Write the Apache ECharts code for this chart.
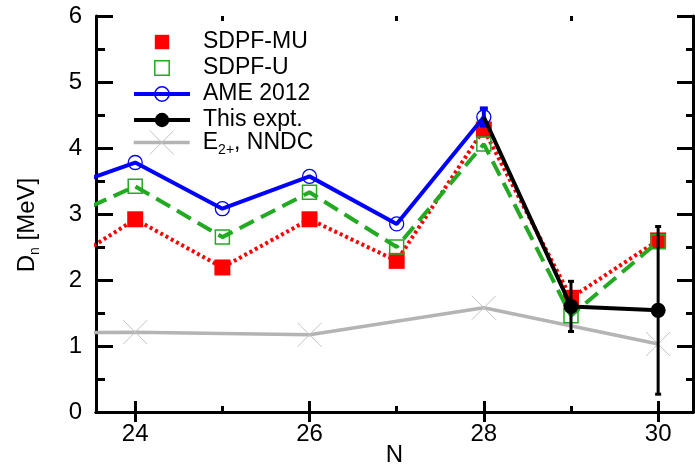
<!DOCTYPE html>
<html>
<head>
<meta charset="utf-8">
<script src="https://cdn.jsdelivr.net/npm/echarts@6/dist/echarts.min.js"></script>
<style>
  html, body { margin: 0; padding: 0; background: #fff; }
  #chart { width: 695px; height: 466px; }
</style>
</head>
<body>
<div id="chart"></div>
<script>
// Neutron shell-gap indicator D_n versus neutron number N
const nAll = [23, 24, 25, 26, 27, 28, 29, 30];
const sdpfMu = [2.08, 2.92, 2.19, 2.92, 2.29, 4.28, 1.73, 2.60];
const sdpfU = [2.82, 3.42, 2.65, 3.33, 2.50, 4.06, 1.46, 2.58];

const nAme = [23, 24, 25, 26, 27, 28];
const ame2012 = [3.31, 3.78, 3.08, 3.57, 2.85, 4.47];
const ame2012Err = [0, 0, 0, 0, 0, 0.13];

const nExpt = [28, 29, 30];
const expt = [4.47, 1.60, 1.54];
const exptErr = [0, 0.38, 1.27];

const nE2 = [23, 24, 26, 28, 30];
const e2Nndc = [1.20, 1.21, 1.17, 1.58, 1.03];

const xMajorTicks = [24, 26, 28, 30];
const xMinorTicks = [25, 27, 29];

const FONT = '"Liberation Sans", Arial, Helvetica, sans-serif';
const RED = '#ff0000', GREEN = '#22aa22', BLUE = '#0000ff', BLACK = '#000000', GRAY = '#b4b4b4';

const pairs = (xs, ys) => xs.map((x, i) => [x, ys[i]]);
const triples = (xs, ys, es) => xs.map((x, i) => [x, ys[i], es[i]]);

// vertical error bar with small caps
function errorBar(color, width, capHalf) {
  return function (params, api) {
    const x = api.value(0), y = api.value(1), e = api.value(2);
    if (!(e > 0)) return null;
    const top = api.coord([x, y + e]);
    const bot = api.coord([x, y - e]);
    const st = { stroke: color, lineWidth: width };
    return {
      type: 'group',
      children: [
        { type: 'line', shape: { x1: top[0], y1: top[1], x2: bot[0], y2: bot[1] }, style: st },
        { type: 'line', shape: { x1: top[0] - capHalf, y1: top[1], x2: top[0] + capHalf, y2: top[1] }, style: st },
        { type: 'line', shape: { x1: bot[0] - capHalf, y1: bot[1], x2: bot[0] + capHalf, y2: bot[1] }, style: st }
      ]
    };
  };
}

const frameLine = { show: true, lineStyle: { color: BLACK, width: 3 } };
const gridRect = { left: 96, right: 2, top: 16, bottom: 54, containLabel: false, outerBoundsMode: 'none' };
const xRange = { min: 23.55, max: 30.4 };

const chart = echarts.init(document.getElementById('chart'), null, { renderer: 'canvas' });

chart.setOption({
  animation: false,
  backgroundColor: '#ffffff',
  textStyle: { fontFamily: FONT },
  grid: [
    Object.assign({}, gridRect),
    Object.assign({}, gridRect)
  ],
  xAxis: [
    {
      gridIndex: 0, type: 'value', position: 'bottom', ...xRange,
      name: 'N', nameLocation: 'middle', nameGap: 31, nameMoveOverlap: false,
      nameTextStyle: { fontSize: 24, color: BLACK, fontFamily: FONT },
      axisLine: frameLine,
      axisTick: { show: true, inside: true, length: 11, customValues: xMajorTicks, lineStyle: { color: BLACK, width: 3 } },
      axisLabel: { show: true, customValues: xMajorTicks, fontSize: 24, color: BLACK, margin: 10, fontFamily: FONT },
      splitLine: { show: false }
    },
    {
      gridIndex: 0, type: 'value', position: 'top', ...xRange,
      axisLine: frameLine,
      axisTick: { show: true, inside: true, length: 10, customValues: xMajorTicks, lineStyle: { color: BLACK, width: 3 } },
      axisLabel: { show: false },
      splitLine: { show: false }
    },
    {
      gridIndex: 1, type: 'value', position: 'bottom', ...xRange,
      axisLine: { show: false },
      axisTick: { show: true, inside: true, length: 6, customValues: xMinorTicks, lineStyle: { color: BLACK, width: 3 } },
      axisLabel: { show: false },
      splitLine: { show: false }
    },
    {
      gridIndex: 1, type: 'value', position: 'top', ...xRange,
      axisLine: { show: false },
      axisTick: { show: true, inside: true, length: 5, customValues: xMinorTicks, lineStyle: { color: BLACK, width: 3 } },
      axisLabel: { show: false },
      splitLine: { show: false }
    }
  ],
  yAxis: [
    {
      gridIndex: 0, type: 'value', position: 'left', min: 0, max: 6, interval: 1,
      name: '{a|D}{s|n}{a| [MeV]}{p| }', nameLocation: 'middle', nameGap: 54, nameMoveOverlap: false,
      nameTextStyle: {
        color: BLACK, fontFamily: FONT,
        rich: {
          a: { fontSize: 24, color: BLACK, fontFamily: FONT, lineHeight: 30 },
          s: { fontSize: 14, color: BLACK, fontFamily: FONT, lineHeight: 30, verticalAlign: 'bottom' },
          p: { fontSize: 24, width: 22, lineHeight: 30 }
        }
      },
      axisLine: frameLine,
      axisTick: { show: true, inside: true, length: 17, lineStyle: { color: BLACK, width: 3 } },
      minorTick: { show: true, splitNumber: 2, length: 9, lineStyle: { color: BLACK, width: 3 } },
      axisLabel: { show: true, fontSize: 24, color: BLACK, margin: 14, fontFamily: FONT, padding: [6, 0, 0, 0] },
      splitLine: { show: false }
    },
    {
      gridIndex: 0, type: 'value', position: 'right', min: 0, max: 6, interval: 1,
      axisLine: frameLine,
      axisTick: { show: true, inside: true, length: 16, lineStyle: { color: BLACK, width: 3 } },
      minorTick: { show: true, splitNumber: 2, length: 7, lineStyle: { color: BLACK, width: 3 } },
      axisLabel: { show: false },
      splitLine: { show: false }
    },
    {
      gridIndex: 1, type: 'value', min: 0, max: 6, show: false
    }
  ],
  legend: [
    {
      orient: 'vertical', left: 132, top: 29, padding: 0, itemGap: 0,
      itemWidth: 56, itemHeight: 18,
      textStyle: { fontSize: 23, color: BLACK, fontFamily: FONT, lineHeight: 26, padding: [0, 0, 0, 8] },
      lineStyle: { width: 'inherit' },
      itemStyle: { borderWidth: 1.5 },
      data: [
        { name: 'SDPF-MU', lineStyle: { opacity: 0 } },
        { name: 'SDPF-U', lineStyle: { opacity: 0 } },
        { name: 'AME 2012' },
        { name: 'This expt.' }
      ]
    },
    {
      orient: 'vertical', left: 132, top: 130, padding: 0, itemGap: 0,
      itemWidth: 56, itemHeight: 30,
      textStyle: {
        fontSize: 23, color: BLACK, fontFamily: FONT, padding: [0, 0, 0, 8],
        rich: {
          a: { fontSize: 23, color: BLACK, fontFamily: FONT, lineHeight: 30 },
          s: { fontSize: 14, color: BLACK, fontFamily: FONT, lineHeight: 30, verticalAlign: 'bottom' }
        }
      },
      lineStyle: { width: 'inherit' },
      itemStyle: { borderWidth: 1 },
      formatter: function () { return '{a|E}{s|2+}{a|, NNDC}'; },
      data: [{ name: 'E2+, NNDC' }]
    }
  ],
  series: [
    {
      name: 'E2+, NNDC', type: 'line', xAxisIndex: 0, yAxisIndex: 0,
      data: pairs(nE2, e2Nndc),
      symbol: 'path://M0,0L10,10M10,0L0,10', symbolSize: 24,
      itemStyle: { color: 'rgba(0,0,0,0)', borderColor: '#c4c4c4', borderWidth: 1 },
      lineStyle: { color: GRAY, width: 3.5 },
      z: 2
    },
    {
      name: 'SDPF-MU', type: 'line', xAxisIndex: 0, yAxisIndex: 0,
      data: pairs(nAll, sdpfMu),
      symbol: 'rect', symbolSize: 16,
      itemStyle: { color: RED },
      lineStyle: { color: RED, width: 4, type: [3, 3] },
      z: 3
    },
    {
      name: 'SDPF-U', type: 'line', xAxisIndex: 0, yAxisIndex: 0,
      data: pairs(nAll, sdpfU),
      symbol: 'rect', symbolSize: 14,
      itemStyle: { color: 'rgba(0,0,0,0)', borderColor: GREEN, borderWidth: 1.5 },
      lineStyle: { color: GREEN, width: 4, type: [16, 8] },
      z: 4
    },
    {
      name: 'AME 2012', type: 'line', xAxisIndex: 0, yAxisIndex: 0,
      data: pairs(nAme, ame2012),
      symbol: 'circle', symbolSize: 14,
      itemStyle: { color: 'rgba(0,0,0,0)', borderColor: BLUE, borderWidth: 1.3 },
      lineStyle: { color: BLUE, width: 4 },
      z: 5
    },
    {
      name: 'AME 2012 error', type: 'custom', xAxisIndex: 0, yAxisIndex: 0,
      data: triples(nAme, ame2012, ame2012Err),
      encode: { x: 0, y: 1 },
      renderItem: errorBar(BLUE, 4, 4),
      z: 5
    },
    {
      name: 'This expt. error', type: 'custom', xAxisIndex: 0, yAxisIndex: 0,
      data: triples(nExpt, expt, exptErr),
      encode: { x: 0, y: 1 },
      renderItem: errorBar(BLACK, 3, 3),
      z: 6
    },
    {
      name: 'This expt.', type: 'line', xAxisIndex: 0, yAxisIndex: 0,
      // the N = 28 point anchors the line to the AME value and carries no marker
      data: pairs(nExpt, expt).map((p, i) => i === 0 ? { value: p, symbol: 'none' } : p),
      symbol: 'circle', symbolSize: 15,
      itemStyle: { color: BLACK },
      lineStyle: { color: BLACK, width: 4 },
      z: 7
    }
  ]
});
</script>
</body>
</html>
